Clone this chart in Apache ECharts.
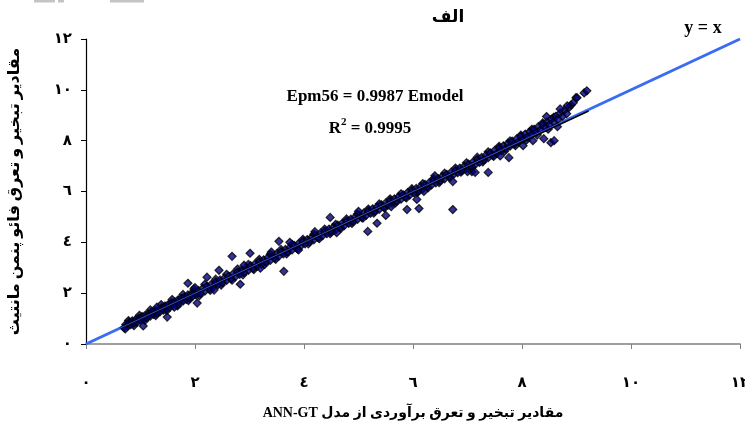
<!DOCTYPE html>
<html><head><meta charset="utf-8">
<script src="https://cdn.jsdelivr.net/npm/echarts@6/dist/echarts.min.js"></script>
<style>html,body{margin:0;padding:0;background:#fff}#c{width:745px;height:423px}</style>
</head><body><div id="c"></div>
<script>
// tick labels (Arabic-Indic digits)
const tickLabels = ['٠','٢','٤','٦','٨','١٠','١٢'];
const chartTitle = 'الف';
const xName = 'مقادیر تبخیر و تعرق برآوردی از مدل ANN-GT';
const yName = 'مقادیر تبخیر و تعرق فائو پنمن مانتیث';
const equationText = 'Epm56 = 0.9987 Emodel';
const r2Value = '0.9995';
const identityLabel = 'y = x';
// identity line y = x endpoints
const identityLine = [[0,0],[12,12]];
// fitted regression line endpoints
const regressionLine = [[0.70,0.70],[9.22,9.17]];
// [ET from ANN-GT model, ET from FAO Penman-Monteith]
const bandPoints = [
[0.70,0.64],[0.73,0.77],[0.76,0.70],[0.79,0.85],[0.82,0.76],[0.85,0.91],[0.88,0.82],[0.91,0.96],[0.94,0.87],[0.97,1.01],
[1.00,0.93],[1.03,1.08],[1.06,0.98],[1.09,1.14],[1.12,1.04],[1.15,1.19],[1.18,1.10],[1.21,1.27],[1.24,1.16],[1.27,1.31],
[1.30,1.21],[1.33,1.38],[1.36,1.27],[1.39,1.43],[1.42,1.33],[1.45,1.50],[1.48,1.39],[1.51,1.55],[1.54,1.45],[1.57,1.62],
[1.60,1.52],[1.63,1.66],[1.66,1.57],[1.69,1.74],[1.72,1.62],[1.75,1.80],[1.78,1.69],[1.81,1.85],[1.84,1.75],[1.87,1.93],
[1.90,1.80],[1.93,1.98],[1.96,1.88],[1.99,2.04],[2.02,1.93],[2.06,2.10],[2.10,1.99],[2.14,2.19],[2.18,2.08],[2.22,2.27],
[2.26,2.16],[2.30,2.35],[2.34,2.26],[2.38,2.44],[2.42,2.33],[2.46,2.52],[2.50,2.41],[2.54,2.59],[2.58,2.50],[2.62,2.67],
[2.66,2.57],[2.70,2.76],[2.74,2.65],[2.78,2.83],[2.82,2.74],[2.86,2.92],[2.90,2.81],[2.94,2.99],[2.98,2.90],[3.02,3.08],
[3.06,2.97],[3.10,3.15],[3.14,3.06],[3.18,3.24],[3.22,3.13],[3.26,3.31],[3.30,3.22],[3.34,3.40],[3.38,3.29],[3.42,3.47],
[3.46,3.38],[3.50,3.56],[3.54,3.46],[3.58,3.63],[3.62,3.54],[3.66,3.72],[3.70,3.62],[3.74,3.79],[3.78,3.70],[3.82,3.88],
[3.86,3.78],[3.90,3.95],[3.94,3.86],[3.98,4.04],[4.02,3.94],[4.06,4.11],[4.10,4.02],[4.14,4.19],[4.18,4.10],[4.22,4.27],
[4.26,4.18],[4.30,4.36],[4.34,4.26],[4.38,4.43],[4.42,4.34],[4.46,4.52],[4.50,4.42],[4.54,4.59],[4.58,4.50],[4.62,4.68],
[4.66,4.58],[4.70,4.75],[4.74,4.66],[4.78,4.84],[4.82,4.74],[4.86,4.91],[4.90,4.82],[4.94,5.00],[4.98,4.90],[5.02,5.07],
[5.06,4.98],[5.10,5.16],[5.14,5.06],[5.18,5.23],[5.22,5.14],[5.26,5.32],[5.30,5.22],[5.34,5.39],[5.38,5.30],[5.42,5.48],
[5.46,5.38],[5.50,5.55],[5.54,5.46],[5.58,5.64],[5.62,5.54],[5.66,5.71],[5.70,5.62],[5.74,5.80],[5.78,5.70],[5.82,5.87],
[5.86,5.78],[5.90,5.96],[5.94,5.86],[5.98,6.03],[6.02,5.94],[6.06,6.12],[6.10,6.02],[6.14,6.19],[6.18,6.10],[6.22,6.28],
[6.26,6.18],[6.30,6.35],[6.34,6.26],[6.38,6.44],[6.42,6.34],[6.46,6.51],[6.50,6.42],[6.54,6.60],[6.58,6.50],[6.62,6.67],
[6.66,6.58],[6.70,6.76],[6.74,6.66],[6.78,6.83],[6.82,6.74],[6.86,6.92],[6.90,6.82],[6.94,6.99],[6.98,6.90],[7.02,7.08],
[7.06,6.98],[7.10,7.16],[7.14,7.06],[7.18,7.26],[7.22,7.14],[7.26,7.34],[7.30,7.24],[7.34,7.43],[7.38,7.33],[7.42,7.52],
[7.46,7.42],[7.50,7.62],[7.54,7.50],[7.58,7.71],[7.62,7.60],[7.66,7.80],[7.70,7.68],[7.74,7.89],[7.78,7.78],[7.82,7.98],
[7.86,7.86],[7.90,8.07],[7.94,7.96],[7.98,8.16],[8.02,8.05],[8.06,8.26],[8.10,8.14],[8.14,8.35],[8.18,8.24],[8.22,8.45],
[8.26,8.33],[8.30,8.55],[8.34,8.43],[8.38,8.65],[8.42,8.52],[8.46,8.74],[8.50,8.62],[8.54,8.85],[8.58,8.73],[8.62,8.96],
[8.66,8.84],[8.70,9.08],[8.74,8.95],[8.78,9.20],[8.82,9.06],[8.86,9.30],[8.90,9.40],[8.94,9.49],[8.99,9.69],[9.14,9.88],[9.19,9.96]
];
const bandEdgePoints = [
[0.78,0.92],[0.88,0.72],[0.98,1.13],[1.08,0.92],[1.18,1.34],[1.28,1.12],[1.38,1.55],[1.48,1.31],[1.58,1.75],[1.68,1.50],
[1.78,1.95],[1.88,1.71],[1.98,2.16],[2.08,1.90],[2.18,2.35],[2.28,2.11],[2.38,2.55],[2.48,2.32],[2.58,2.74],[2.68,2.51],
[2.78,2.95],[2.88,2.72],[2.98,3.13],[3.08,2.93],[3.18,3.33],[3.28,3.13],[3.38,3.53],[3.48,3.33],[3.58,3.72],[3.68,3.54],
[3.78,3.92],[3.88,3.74],[3.98,4.12],[4.08,3.94],[4.18,4.32],[4.28,4.14],[4.38,4.52],[4.48,4.34],[4.58,4.71],[4.68,4.55],
[4.78,4.92],[4.88,4.74],[4.98,5.11],[5.08,4.95],[5.18,5.31],[5.28,5.15],[5.38,5.51],[5.48,5.35],[5.58,5.71],[5.68,5.55],
[5.78,5.91],[5.88,5.75],[5.98,6.11],[6.08,5.95],[6.18,6.31],[6.28,6.15],[6.38,6.51],[6.48,6.35],[6.58,6.72],[6.68,6.55],
[6.78,6.92],[6.88,6.76],[6.98,7.13],[7.08,6.96],[7.18,7.35],[7.28,7.16],[7.38,7.56],[7.48,7.38],[7.58,7.78],[7.68,7.58],
[7.78,7.99],[7.88,7.80],[7.98,8.22],[8.08,8.02],[8.18,8.45],[8.28,8.22],[8.38,8.70],[8.48,8.45],[8.58,8.92]
];
const scatterOutliers = [
[0.72,0.59],[1.05,0.71],[1.49,1.06],[1.87,2.39],[2.04,1.61],[2.22,2.63],[2.44,2.90],[2.68,3.45],[2.83,2.35],[3.01,3.57],
[3.54,4.04],[3.63,2.86],[3.74,4.00],[4.48,4.98],[5.17,4.43],[5.34,4.75],[5.50,5.06],[5.89,5.29],[6.07,5.69],[6.11,5.33],
[6.73,5.29],[6.73,6.39],[7.08,6.78],[7.14,6.75],[7.38,6.75],[7.76,7.33],[8.02,7.80],[8.40,8.08],[8.53,7.92],[8.59,8.00],
[8.70,9.25],[8.83,9.37],[9.01,9.69],
[1.30,1.45],[1.62,1.45],[2.00,2.22],[2.35,2.12],[2.90,3.10],[3.20,2.98],[3.40,3.62],[3.90,3.70],[4.20,4.42],[4.60,4.38],
[5.00,5.22],[5.60,5.40],[6.20,6.00],[6.40,6.62],[7.00,6.78],[7.60,7.40],[8.20,8.00],[8.45,8.95],[8.65,8.55]
];

const serif = '"Liberation Serif", "DejaVu Serif", "DejaVu Sans", serif';
const rtl = s => '\u2067' + s + '\u2069';
const chart = echarts.init(document.getElementById('c'));
const fmt = v => tickLabels[Math.round(v / 2)];
chart.setOption({
  animation: false,
  backgroundColor: '#fff',
  grid: { left: 86, right: 5, top: 39, bottom: 79, outerBoundsMode: 'none', containLabel: false },
  xAxis: {
    type: 'value', min: 0, max: 12, interval: 2,
    name: rtl(xName), nameLocation: 'middle', nameGap: 62,
    nameTextStyle: { fontSize: 14, fontWeight: 'bold', color: '#000', fontFamily: serif },
    axisLine: { lineStyle: { color: '#808080', width: 1.5 } },
    axisTick: { length: 5, lineStyle: { color: '#808080', width: 1 } },
    axisLabel: { margin: 32, fontSize: 15, fontWeight: 'bold', color: '#000', fontFamily: serif, formatter: fmt },
    splitLine: { show: false }
  },
  yAxis: {
    type: 'value', min: 0, max: 12, interval: 2,
    name: rtl(yName), nameLocation: 'middle', nameGap: 63, nameRotate: 90,
    nameTextStyle: { fontSize: 16, fontWeight: 'bold', color: '#000', fontFamily: serif },
    axisLine: { lineStyle: { color: '#000', width: 1.2 } },
    axisTick: { length: 5, lineStyle: { color: '#000', width: 1 } },
    axisLabel: { margin: 14, fontSize: 15, fontWeight: 'bold', color: '#000', fontFamily: serif, formatter: fmt },
    splitLine: { show: false }
  },
  series: [
    { type: 'line', data: identityLine, symbol: 'none', z: 1,
      lineStyle: { color: '#3a6cf4', width: 3 } },
    { type: 'scatter', data: bandEdgePoints.concat(bandPoints, scatterOutliers), symbol: 'diamond', symbolSize: 8, z: 2,
      itemStyle: { color: '#000080', borderColor: '#000', borderWidth: 1.2 } },
    { type: 'line', data: regressionLine, symbol: 'none', z: 3,
      lineStyle: { color: '#000', width: 2 } },
    { type: 'line', data: identityLine, symbol: 'none', z: 4,
      lineStyle: { color: '#3a6cf4', width: 0.8 } }
  ],
  graphic: [
    { type: 'rect', shape: { x: 34, y: 0, width: 21, height: 2.5 }, style: { fill: '#c4c4c4' } },
    { type: 'rect', shape: { x: 58, y: 0, width: 6, height: 2.5 }, style: { fill: '#c4c4c4' } },
    { type: 'rect', shape: { x: 110, y: 0, width: 34, height: 2.5 }, style: { fill: '#c4c4c4' } },
    { type: 'text', x: 448, y: 18, style: { text: chartTitle, font: 'bold 17px ' + serif, fill: '#000', align: 'center', verticalAlign: 'middle' } },
    { type: 'text', x: 703, y: 28, style: { text: identityLabel, font: 'bold 18px ' + serif, fill: '#000', align: 'center', verticalAlign: 'middle' } },
    { type: 'text', x: 375, y: 97, style: { text: equationText, font: 'bold 17px ' + serif, fill: '#000', align: 'center', verticalAlign: 'middle' } },
    { type: 'text', x: 370, y: 127, style: {
        text: '{b|R}{s|2}{b| = ' + r2Value + '}', align: 'center', verticalAlign: 'middle',
        rich: {
          b: { font: 'bold 17px ' + serif, fill: '#000', verticalAlign: 'bottom', lineHeight: 20 },
          s: { font: 'bold 11px ' + serif, fill: '#000', verticalAlign: 'top', lineHeight: 20, padding: [0, 0, 10, 0] }
        } } }
  ]
});
</script></body></html>
